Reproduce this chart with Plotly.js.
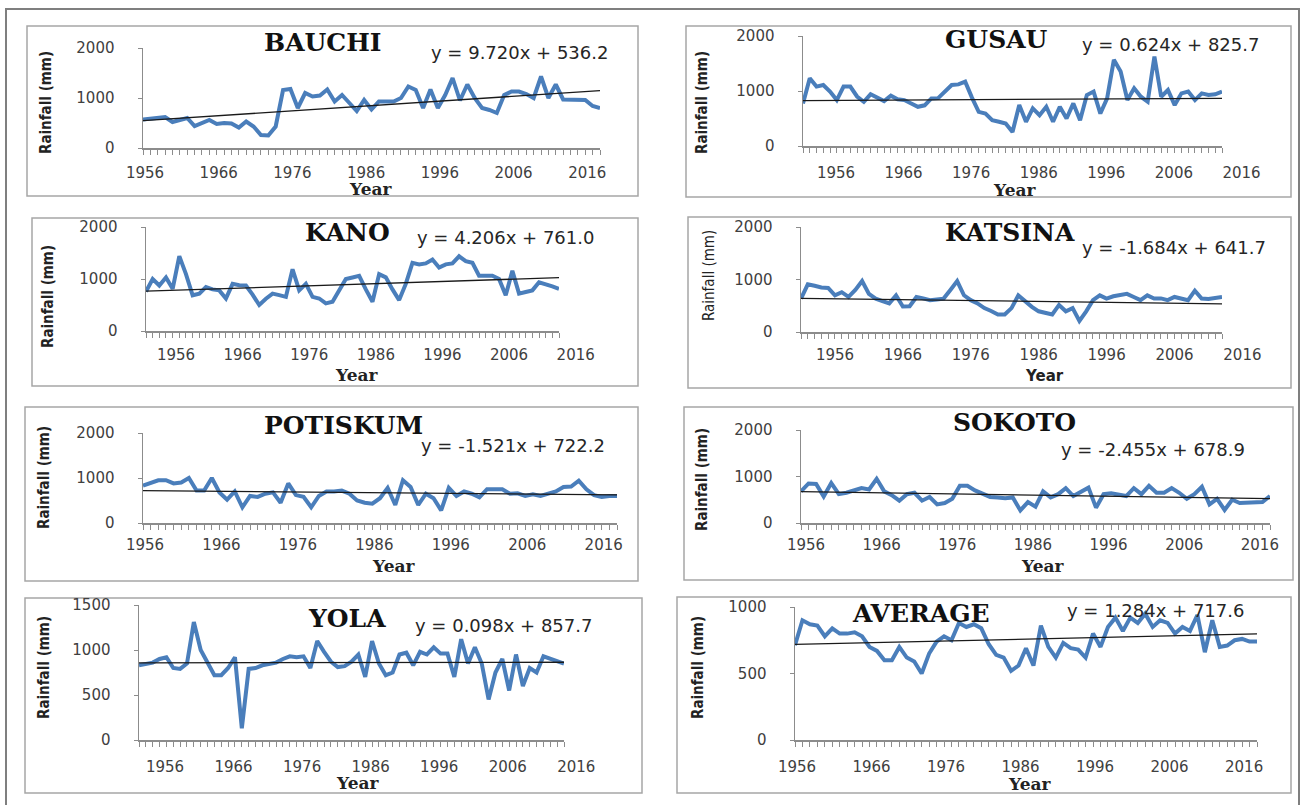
<!DOCTYPE html>
<html><head><meta charset="utf-8">
<script src="https://cdn.plot.ly/plotly-3.0.1.min.js"></script>
<style>html,body{margin:0;padding:0;background:#fff;} #chart{width:1307px;height:805px;}</style>
</head><body><div id="chart"></div>
<script>
const years = [1956,1957,1958,1959,1960,1961,1962,1963,1964,1965,1966,1967,1968,1969,1970,1971,1972,1973,1974,1975,1976,1977,1978,1979,1980,1981,1982,1983,1984,1985,1986,1987,1988,1989,1990,1991,1992,1993,1994,1995,1996,1997,1998,1999,2000,2001,2002,2003,2004,2005,2006,2007,2008,2009,2010,2011,2012,2013,2014,2015,2016,2017,2018];
const xTickLabels = ['1956','1966','1976','1986','1996','2006','2016'];
const stations = ['BAUCHI','GUSAU','KANO','KATSINA','POTISKUM','SOKOTO','YOLA','AVERAGE'];
const equations = ['y = 9.720x + 536.2','y = 0.624x + 825.7','y = 4.206x + 761.0','y = -1.684x + 641.7','y = -1.521x + 722.2','y = -2.455x + 678.9','y = 0.098x + 857.7','y = 1.284x + 717.6'];
const slopes = [9.720, 0.624, 4.206, -1.684, -1.521, -2.455, 0.098, 1.284];
const intercepts = [536.2, 825.7, 761.0, 641.7, 722.2, 678.9, 857.7, 717.6];
const yMax = [2000,2000,2000,2000,2000,2000,1500,1000];
const yTicks = [[0,1000,2000],[0,1000,2000],[0,1000,2000],[0,1000,2000],[0,1000,2000],[0,1000,2000],[0,500,1000,1500],[0,500,1000]];

const bauchi = [570,590,600,620,520,560,600,440,510,560,480,500,490,410,530,430,260,250,430,1160,1180,800,1100,1030,1050,1170,930,1060,900,740,960,770,930,920,930,1000,1230,1160,800,1170,800,1060,1400,950,1270,1000,800,760,700,1060,1130,1130,1080,1000,1430,1000,1270,970,960,960,960,840,800];
const gusau = [775,1230,1080,1110,990,835,1080,1080,900,805,940,880,817,915,850,835,780,713,740,865,870,1000,1110,1120,1170,880,620,590,470,440,410,256,744,440,683,560,713,440,713,500,775,470,927,990,590,866,1567,1354,835,1050,896,805,1628,896,1018,744,957,990,835,957,927,940,990];
const kano = [760,1000,875,1030,812,1440,1094,687,719,844,800,781,625,906,880,875,700,500,620,719,690,656,1187,781,906,656,625,531,562,780,1000,1030,1062,800,562,1094,1031,800,594,906,1312,1281,1300,1375,1219,1281,1300,1437,1344,1312,1062,1062,1062,1000,687,1156,719,750,781,937,906,860,812];
const katsina = [636,909,880,848,840,697,758,667,800,970,727,636,590,545,697,485,490,667,640,606,620,636,800,970,700,606,545,455,400,333,333,455,697,576,480,394,360,333,515,394,455,212,394,606,697,636,680,697,727,667,606,697,636,640,606,667,640,606,788,636,630,640,667];
const potiskum = [830,900,950,950,880,900,1000,720,720,1000,680,520,700,350,600,580,650,680,450,880,620,580,350,600,700,700,720,650,500,450,430,550,780,400,950,800,400,650,550,280,780,600,700,650,570,750,760,750,650,660,600,640,600,650,700,800,810,940,750,620,580,600,600];
const sokoto = [680,850,840,570,860,620,650,700,750,720,950,680,600,480,620,650,480,560,400,430,520,800,800,700,620,560,550,530,550,270,450,350,680,550,620,750,580,680,760,330,620,640,620,580,750,620,800,650,650,750,650,520,620,780,400,520,280,500,430,430,430,450,580];
const yola = [830,850,860,900,920,800,790,850,1310,1000,860,720,720,800,920,130,790,800,830,850,860,900,930,920,930,800,1100,980,870,810,820,870,950,700,1100,850,720,750,950,970,830,980,950,1030,960,960,700,1120,850,1030,850,450,750,900,550,950,600,800,750,930,900,880,850];
const average = [712,900,870,860,780,840,800,800,810,780,700,670,600,600,700,620,590,500,650,740,780,750,880,850,870,840,720,640,620,520,560,690,560,860,700,620,730,690,680,620,800,700,850,920,820,920,880,950,850,900,880,800,850,820,940,660,900,700,710,750,760,740,740];
const series = [bauchi, gusau, kano, katsina, potiskum, sokoto, yola, average];

// panel geometry in page pixels
const W = 1307, H = 805;
const geo = [
 {box:[27,26,638,196], x0:143, x1:600, yb:148, ytop:48, shift:2, lab:173, title:[323,42], eq:[519,53], ytl:[46,103], year:[370,189]},
 {box:[686,26,1291,197], x0:803, x1:1222, yb:146, ytop:36, shift:33, lab:173, title:[996,40], eq:[1170,45], ytl:[702,103], year:[1014,190]},
 {box:[32,218,638,386], x0:146, x1:559, yb:331, ytop:227, shift:30, lab:355, title:[347,233], eq:[505,237], ytl:[48,297], year:[356,375]},
 {box:[688,217,1291,388], x0:801, x1:1222, yb:332, ytop:227, shift:34, lab:355, title:[1010,233], eq:[1174,248], ytl:[709,276], year:[1044,376]},
 {box:[25,407,638,581], x0:143, x1:617, yb:523, ytop:433, shift:2, lab:545, title:[343,425], eq:[513,445], ytl:[44,478], year:[393,566]},
 {box:[684,407,1293,580], x0:801, x1:1270, yb:523, ytop:430, shift:5, lab:545, title:[1014,423], eq:[1153,450], ytl:[702,480], year:[1042,566]},
 {box:[25,598,642,793], x0:139, x1:564, yb:740, ytop:605, shift:26, lab:767, title:[347,618], eq:[503,625], ytl:[44,668], year:[358,783]},
 {box:[677,597,1291,793], x0:795, x1:1257, yb:740, ytop:607, shift:2, lab:767, title:[921,613], eq:[1155,610], ytl:[698,668], year:[1029,784]}
];

const px = v => v / W, py = v => 1 - v / H;
const data = [], annotations = [], shapes = [];
const layout = {
  width: W, height: H, margin: {l:0, r:0, t:0, b:0},
  paper_bgcolor: '#ffffff', plot_bgcolor: 'rgba(0,0,0,0)',
  showlegend: false, font: {family: 'DejaVu Sans', color: '#404040'}
};

shapes.push({type:'rect', xref:'paper', yref:'paper', x0:px(6), x1:px(1299), y0:py(812), y1:py(9),
  line:{color:'#7f7f7f', width:2}, layer:'below'});

stations.forEach((name, k) => {
  const g = geo[k];
  const n = k + 1;
  const xa = 'x' + (n === 1 ? '' : n), ya = 'y' + (n === 1 ? '' : n);
  const xkey = 'xaxis' + (n === 1 ? '' : n), ykey = 'yaxis' + (n === 1 ? '' : n);
  const vals = series[k];
  const trend = vals.map((_, i) => slopes[k] * (i + 1) + intercepts[k]);
  data.push({type:'scatter', mode:'lines', x: years, y: vals, xaxis: xa, yaxis: ya,
    line:{color:'#4A7EBB', width:4, shape:'linear'}, hoverinfo:'skip'});
  data.push({type:'scatter', mode:'lines', x: years, y: trend, xaxis: xa, yaxis: ya,
    line:{color:'#1a1a1a', width:1.3}, hoverinfo:'skip'});
  layout[xkey] = {
    domain:[px(g.x0), px(g.x1)], anchor: ya, range:[years[0], years[years.length-1]],
    tickmode:'array', tickvals: xTickLabels.map(Number), ticktext: xTickLabels,
    showline:true, linecolor:'#8c8c8c', linewidth:1.5, ticks:'outside', ticklen:5, tickcolor:'#8c8c8c',
    minor:{tickmode:'linear', tick0:1956, dtick:1, ticks:'outside', ticklen:5, tickcolor:'#8c8c8c'},
    showgrid:false, zeroline:false, fixedrange:true,
    tickfont:{family:'DejaVu Sans', size:15, color:'#404040'},
    ticklabelshift: g.shift, ticklabelstandoff: Math.max(0, g.lab - g.yb - 20)
  };
  layout[ykey] = {
    domain:[py(g.yb), py(g.ytop)], anchor: xa, range:[0, yMax[k]],
    tickmode:'array', tickvals: yTicks[k], ticktext: yTicks[k].map(String),
    showline:true, linecolor:'#8c8c8c', linewidth:1.5, ticks:'outside', ticklen:4, tickcolor:'#8c8c8c',
    showgrid:false, zeroline:false, fixedrange:true,
    tickfont:{family:'DejaVu Sans', size:15, color:'#404040'},
    ticklabelstandoff: 20
  };
  shapes.push({type:'rect', xref:'paper', yref:'paper', x0:px(g.box[0]), x1:px(g.box[2]),
    y0:py(g.box[3]), y1:py(g.box[1]), line:{color:'#a6a6a6', width:1.5}, layer:'below'});
  annotations.push({xref:'paper', yref:'paper', x:px(g.title[0]), y:py(g.title[1]), text:'<b>' + name + '</b>',
    showarrow:false, xanchor:'center', yanchor:'middle',
    font:{family:'DejaVu Serif', size:25, color:'#111111'}});
  annotations.push({xref:'paper', yref:'paper', x:px(g.eq[0]), y:py(g.eq[1]), text:equations[k],
    showarrow:false, xanchor:'center', yanchor:'middle',
    font:{family:'DejaVu Sans', size:18, color:'#262626'}});
  const sansTitles = (name === 'KATSINA');
  annotations.push({xref:'paper', yref:'paper', x:px(g.ytl[0]), y:py(g.ytl[1]),
    text: sansTitles ? 'Rainfall (mm)' : '<b>Rainfall (mm)</b>', textangle:-90,
    showarrow:false, xanchor:'center', yanchor:'middle',
    font:{family:'Liberation Sans Narrow, DejaVu Sans Condensed, sans-serif', size: sansTitles ? 15 : 15, color:'#222222'}});
  annotations.push({xref:'paper', yref:'paper', x:px(g.year[0]), y:py(g.year[1]),
    text:'<b>Year</b>', showarrow:false, xanchor:'center', yanchor:'middle',
    font:{family: sansTitles ? 'DejaVu Sans' : 'DejaVu Serif', size: sansTitles ? 15 : 17, color:'#222222'}});
});

layout.shapes = shapes;
layout.annotations = annotations;
Plotly.newPlot('chart', data, layout, {staticPlot:true, displayModeBar:false});
</script></body></html>
